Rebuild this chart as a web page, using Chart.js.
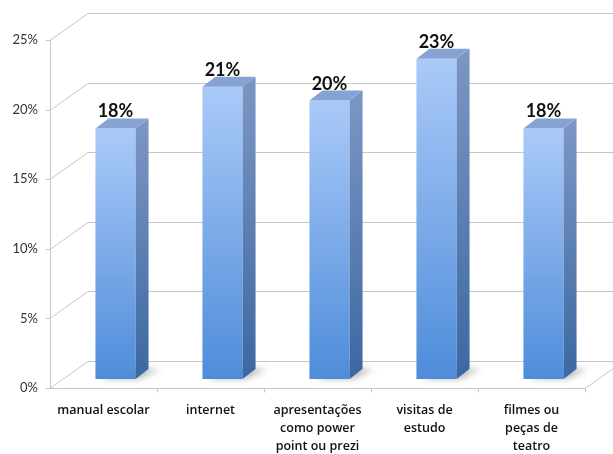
<!DOCTYPE html>
<html>
<head>
<meta charset="utf-8">
<script src="https://cdn.jsdelivr.net/npm/chart.js@4"></script>
<style>
  html, body { margin: 0; background: #fff; }
  #wrap { width: 613px; height: 454px; }
</style>
</head>
<body>
<div id="wrap"><canvas id="chart"></canvas></div>
<script>
const categories = [
    ["manual escolar"],
    ["internet"],
    ["apresentações", "como power", "point ou prezi"],
    ["visitas de", "estudo"],
    ["filmes ou", "peças de", "teatro"]
]
const values = [18, 21, 20, 23, 18]
const yMax = 25
const yStep = 5

// fake 3d offsets
const wall = { dx: 38, dy: -27 }
const barShift = { dx: 12, dy: -9 }
const barDepth = { dx: 13, dy: -10 }

const frontGradient = (ctx, top, bottom) => {
    const g = ctx.createLinearGradient(0, top, 0, bottom)
    g.addColorStop(0, "#aacaf8")
    g.addColorStop(1, "#4e8cda")
    return g
}

const depth3d = {
    id: "depth3d",
    beforeDatasetsDraw(chart) {
        const { ctx, chartArea: a, scales: { x, y } } = chart
        ctx.save()
        ctx.strokeStyle = "#c6c6c6"
        ctx.lineWidth = 1

        // back wall lines + little ticks on the front axis
        y.ticks.forEach(t => {
            const py = Math.round(y.getPixelForValue(t.value)) + 0.5
            ctx.beginPath()
            ctx.moveTo(a.left, py)
            ctx.lineTo(a.left + wall.dx, py + wall.dy)
            ctx.lineTo(chart.width, py + wall.dy)
            ctx.stroke()
            ctx.beginPath()
            ctx.moveTo(a.left - 4, py)
            ctx.lineTo(a.left, py)
            ctx.stroke()
        })

        // front axis and floor edge
        const bottom = Math.round(a.bottom) + 0.5
        ctx.beginPath()
        ctx.moveTo(a.left + 0.5, a.top)
        ctx.lineTo(a.left + 0.5, bottom)
        ctx.lineTo(a.right, bottom)
        ctx.lineTo(a.right + wall.dx, bottom + wall.dy)
        ctx.stroke()

        for (let i = 0; i < categories.length; i++) {
            const px = Math.round(x.getPixelForValue(i + 0.5)) + 0.5
            ctx.beginPath()
            ctx.moveTo(px, bottom)
            ctx.lineTo(px, bottom + 4)
            ctx.stroke()
        }
        ctx.restore()

        // everything the bars draw sits a bit deeper than the front axis
        ctx.save()
        ctx.translate(barShift.dx, barShift.dy)

        // soft floor shadows
        const meta = chart.getDatasetMeta(0)
        ctx.save()
        ctx.filter = "blur(3px)"
        ctx.fillStyle = "rgba(60,60,60,0.35)"
        meta.data.forEach(el => {
            const x0 = el.x - el.width / 2, x1 = el.x + el.width / 2
            ctx.beginPath()
            ctx.moveTo(x0 + 6, el.base)
            ctx.lineTo(x1 + 4, el.base)
            ctx.lineTo(x1 + 24, el.base - 10)
            ctx.lineTo(x0 + 24, el.base - 10)
            ctx.closePath()
            ctx.fill()
        })
        ctx.restore()
    },
    afterDatasetsDraw(chart) {
        const { ctx } = chart
        const meta = chart.getDatasetMeta(0)
        const { dx, dy } = barDepth

        meta.data.forEach((el, i) => {
            const x0 = el.x - el.width / 2, x1 = el.x + el.width / 2
            const top = el.y, base = el.base

            // side face
            const sg = ctx.createLinearGradient(0, top, 0, base)
            sg.addColorStop(0, "#7b95c3")
            sg.addColorStop(1, "#3b68a2")
            ctx.fillStyle = sg
            ctx.beginPath()
            ctx.moveTo(x1, top)
            ctx.lineTo(x1 + dx, top + dy)
            ctx.lineTo(x1 + dx, base + dy)
            ctx.lineTo(x1, base)
            ctx.closePath()
            ctx.fill()

            // top face
            ctx.fillStyle = "#86a3d4"
            ctx.beginPath()
            ctx.moveTo(x0, top)
            ctx.lineTo(x1, top)
            ctx.lineTo(x1 + dx, top + dy)
            ctx.lineTo(x0 + dx, top + dy)
            ctx.closePath()
            ctx.fill()

            // value label
            ctx.fillStyle = "#111"
            ctx.font = "bold 18px Lato"
            ctx.textAlign = "center"
            ctx.textBaseline = "alphabetic"
            ctx.fillText(values[i] + "%", el.x, top + dy - 1)
        })
        ctx.restore()
    }
}

new Chart(document.getElementById("chart"), {
    type: "bar",
    data: {
        labels: categories,
        datasets: [{
            data: values,
            clip: false,
            borderWidth: 0,
            barPercentage: 0.75,
            categoryPercentage: 0.5,
            backgroundColor: c => {
                const { chart } = c
                if (!chart.chartArea || c.raw === undefined) return "#7aaaf0"
                const y = chart.scales.y
                return frontGradient(chart.ctx, y.getPixelForValue(c.raw), y.getPixelForValue(0))
            }
        }]
    },
    plugins: [depth3d],
    options: {
        responsive: true,
        maintainAspectRatio: false,
        animation: false,
        layout: {
            padding: { top: 40, right: 28, left: 0, bottom: 0 }
        },
        scales: {
            x: {
                grid: { display: false, drawTicks: false },
                border: { display: false },
                ticks: {
                    color: "#111",
                    padding: 13,
                    maxRotation: 0,
                    autoSkip: false,
                    font: { family: "Open Sans", size: 12.5, weight: 600, lineHeight: 1.45 }
                },
                afterFit: s => { s.height = 66 }
            },
            y: {
                min: 0,
                max: yMax,
                grid: { display: false, drawTicks: false },
                border: { display: false },
                ticks: {
                    stepSize: yStep,
                    padding: 12,
                    color: "#333",
                    font: { family: "Lato", size: 13 },
                    callback: v => `${v}%`
                },
                afterFit: s => { s.width = 50 }
            }
        },
        plugins: {
            legend: { display: false },
            tooltip: { enabled: false }
        }
    }
})
</script>
</body>
</html>
